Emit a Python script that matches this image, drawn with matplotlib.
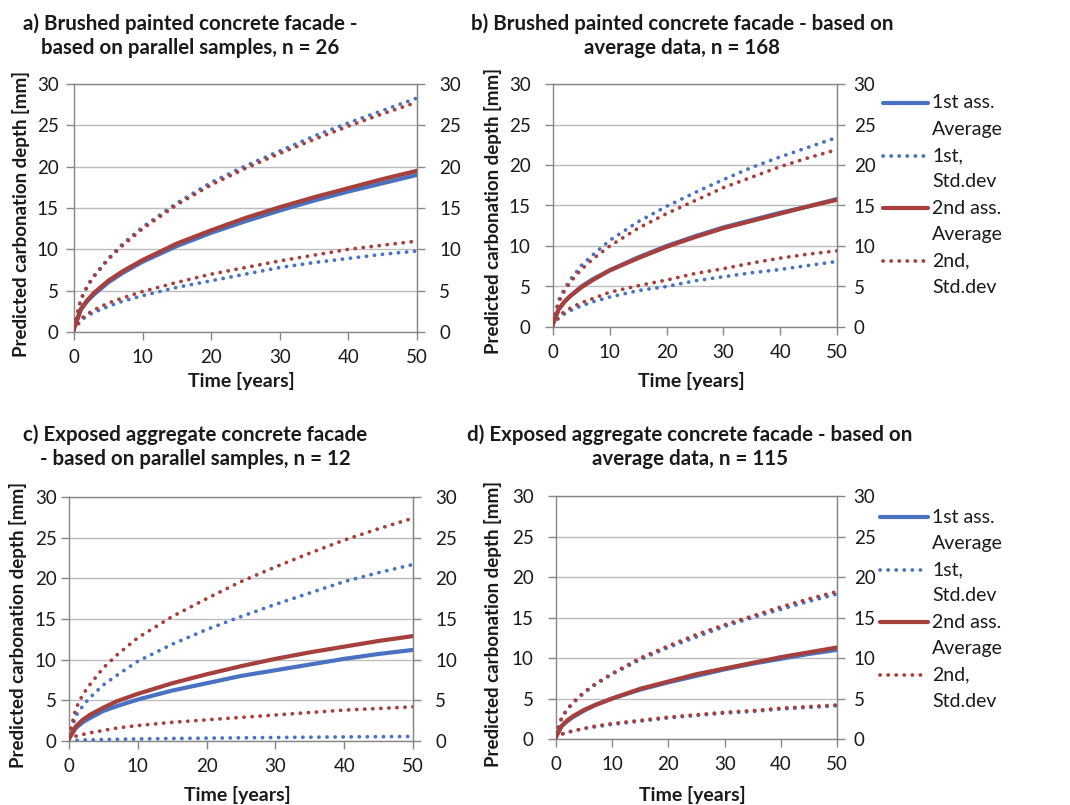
import matplotlib
matplotlib.use("Agg")
import matplotlib.pyplot as plt
from matplotlib.lines import Line2D

plt.rcParams['font.family'] = ['Lato', 'DejaVu Sans']

W, H = 1070, 805

# Time axis (years)
t = [0, 1, 2, 3, 5, 7, 10, 15, 20, 25, 30, 35, 40, 45, 50]

# a) Brushed painted facade, parallel samples
a_avg1 = [0.4, 2.7, 3.8, 4.6, 6.0, 7.1, 8.5, 10.4, 12.0, 13.4, 14.7, 15.9, 17.0, 18.0, 19.0]
a_avg2 = [0.4, 2.8, 3.9, 4.8, 6.2, 7.3, 8.7, 10.7, 12.3, 13.8, 15.1, 16.3, 17.4, 18.5, 19.5]
a_up1 = [0.6, 4.0, 5.7, 6.9, 8.9, 10.6, 12.7, 15.6, 18.1, 20.1, 21.9, 23.7, 25.3, 26.8, 28.3]
a_up2 = [0.6, 3.9, 5.6, 6.8, 8.8, 10.4, 12.5, 15.4, 17.8, 19.8, 21.6, 23.3, 24.9, 26.4, 27.8]
a_lo1 = [0.2, 1.4, 2.0, 2.4, 3.1, 3.7, 4.4, 5.4, 6.2, 7.0, 7.8, 8.4, 8.9, 9.4, 9.8]
a_lo2 = [0.2, 1.6, 2.2, 2.7, 3.5, 4.1, 4.9, 6.0, 7.0, 7.8, 8.6, 9.3, 10.0, 10.5, 11.0]

# b) Brushed painted facade, average data
b_avg1 = [0.4, 2.2, 3.1, 3.8, 5.0, 5.9, 7.0, 8.6, 10.0, 11.2, 12.3, 13.2, 14.1, 14.9, 15.8]
b_avg2 = [0.4, 2.2, 3.1, 3.8, 4.9, 5.8, 7.0, 8.5, 9.9, 11.1, 12.2, 13.1, 14.0, 14.9, 15.7]
b_up1 = [0.6, 3.3, 4.7, 5.8, 7.6, 8.9, 10.7, 13.0, 14.9, 16.6, 18.2, 19.7, 21.0, 22.2, 23.4]
b_up2 = [0.6, 3.1, 4.4, 5.5, 7.1, 8.4, 10.0, 12.2, 14.0, 15.6, 17.2, 18.5, 19.8, 20.9, 21.9]
b_lo1 = [0.2, 1.1, 1.6, 2.0, 2.6, 3.1, 3.7, 4.5, 5.0, 5.7, 6.2, 6.7, 7.1, 7.6, 8.1]
b_lo2 = [0.2, 1.3, 1.9, 2.3, 3.0, 3.5, 4.3, 5.1, 5.8, 6.6, 7.2, 7.9, 8.5, 9.0, 9.4]

# c) Exposed aggregate facade, parallel samples
c_avg1 = [0.3, 1.6, 2.3, 2.8, 3.7, 4.3, 5.1, 6.2, 7.1, 8.0, 8.7, 9.4, 10.1, 10.7, 11.2]
c_avg2 = [0.3, 1.8, 2.6, 3.2, 4.1, 4.9, 5.8, 7.1, 8.2, 9.2, 10.1, 10.9, 11.6, 12.3, 12.9]
c_up1 = [0.5, 3.1, 4.3, 5.3, 6.9, 8.1, 9.8, 11.9, 13.7, 15.3, 16.8, 18.2, 19.6, 20.7, 21.7]
c_up2 = [0.6, 4.0, 5.7, 6.9, 9.0, 10.6, 12.7, 15.3, 17.5, 19.6, 21.4, 23.1, 24.7, 26.1, 27.4]
c_lo1 = [0.0, 0.08, 0.12, 0.14, 0.18, 0.21, 0.25, 0.31, 0.35, 0.39, 0.43, 0.47, 0.5, 0.53, 0.56]
c_lo2 = [0.1, 0.6, 0.8, 1.0, 1.3, 1.6, 1.9, 2.3, 2.6, 2.9, 3.2, 3.5, 3.8, 4.0, 4.2]

# d) Exposed aggregate facade, average data
d_avg1 = [0.3, 1.6, 2.2, 2.7, 3.5, 4.2, 5.0, 6.1, 7.0, 7.8, 8.6, 9.3, 9.9, 10.5, 11.0]
d_avg2 = [0.3, 1.6, 2.3, 2.8, 3.6, 4.2, 5.0, 6.2, 7.1, 8.0, 8.7, 9.4, 10.1, 10.7, 11.3]
d_up1 = [0.5, 2.6, 3.6, 4.4, 5.7, 6.7, 8.0, 9.8, 11.3, 12.6, 13.9, 15.0, 16.0, 17.0, 17.9]
d_up2 = [0.5, 2.6, 3.7, 4.5, 5.8, 6.8, 8.1, 10.0, 11.5, 12.9, 14.1, 15.2, 16.3, 17.3, 18.2]
d_lo1 = [0.1, 0.6, 0.8, 1.0, 1.3, 1.5, 1.8, 2.2, 2.6, 2.9, 3.2, 3.4, 3.7, 3.9, 4.1]
d_lo2 = [0.1, 0.6, 0.8, 1.0, 1.3, 1.6, 1.9, 2.3, 2.7, 3.0, 3.3, 3.5, 3.8, 4.0, 4.2]

titles = [
    "a) Brushed painted concrete facade -\nbased on parallel samples, n = 26",
    "b) Brushed painted concrete facade - based on\naverage data, n = 168",
    "c) Exposed aggregate concrete facade\n- based on parallel samples, n = 12",
    "d) Exposed aggregate concrete facade - based on\naverage data, n = 115",
]
legend_labels = ["1st ass.\nAverage", "1st,\nStd.dev", "2nd ass.\nAverage", "2nd,\nStd.dev"]
y_ticks = [0, 5, 10, 15, 20, 25, 30]
x_ticks = [0, 10, 20, 30, 40, 50]

BLUE = "#4A72C2"
RED = "#A5403D"
GRID = "#BDBDBD"
SPINE = "#868686"
TXT = "#1a1a1a"

DOT = dict(linestyle=(0, (0.05, 2.1)), dash_capstyle='round', lw=2.7)
SOLID = dict(linestyle='-', lw=3.0, solid_capstyle='round')

fig = plt.figure(figsize=(W / 100, H / 100), dpi=100)


def px_axes(x0, y0, x1, y1):
    return fig.add_axes([x0 / W, 1 - y1 / H, (x1 - x0) / W, (y1 - y0) / H])


def fx(x):
    return x / W


def fy(y):
    return 1 - y / H


panels = [
    dict(box=(74, 84, 417, 332), data=(a_avg1, a_up1, a_lo1, a_avg2, a_up2, a_lo2),
         title_xy=(190, 36), ylab_x=21, xlab_y=381, lpad=5, rpad=10),
    dict(box=(553, 84, 837, 327), data=(b_avg1, b_up1, b_lo1, b_avg2, b_up2, b_lo2),
         title_xy=(682, 36), ylab_x=493, xlab_y=381, lpad=10, rpad=6,
         legend=(883, 928, 103)),
    dict(box=(69, 497, 413, 741), data=(c_avg1, c_up1, c_lo1, c_avg2, c_up2, c_lo2),
         title_xy=(195, 447), ylab_x=18, xlab_y=795, lpad=3, rpad=10),
    dict(box=(556, 496, 837, 739), data=(d_avg1, d_up1, d_lo1, d_avg2, d_up2, d_lo2),
         title_xy=(690, 447), ylab_x=493, xlab_y=795, lpad=10, rpad=6,
         legend=(880, 928, 517)),
]

for p, title in zip(panels, titles):
    x0, y0, x1, y1 = p['box']
    ax = px_axes(x0, y0, x1, y1)
    avg1, up1, lo1, avg2, up2, lo2 = p['data']

    ax.plot(t, up1, color=BLUE, **DOT, zorder=3)
    ax.plot(t, lo1, color=BLUE, **DOT, zorder=3)
    ax.plot(t, avg1, color=BLUE, **SOLID, zorder=4)
    ax.plot(t, up2, color=RED, **DOT, zorder=3)
    ax.plot(t, lo2, color=RED, **DOT, zorder=3)
    ax.plot(t, avg2, color=RED, **SOLID, zorder=5)

    ax.set_xlim(0, 50)
    ax.set_ylim(0, 30)
    ax.set_xticks(x_ticks)
    ax.set_yticks(y_ticks)
    ax.yaxis.grid(True, color=GRID, lw=1.0)
    ax.set_axisbelow(True)
    for s in ax.spines.values():
        s.set_color(SPINE)
        s.set_linewidth(1.0)
    ax.tick_params(axis='both', direction='out', length=6, width=1.0, color=SPINE,
                   labelsize=13.5, labelcolor=TXT)
    ax.tick_params(axis='y', pad=p['lpad'])
    ax.tick_params(axis='x', pad=6)

    # secondary (right) depth axis with the same scale
    ax2 = ax.twinx()
    ax2.set_ylim(ax.get_ylim())
    ax2.set_yticks(y_ticks)
    for s in ax2.spines.values():
        s.set_visible(False)
    ax2.spines['right'].set_visible(True)
    ax2.spines['right'].set_color(SPINE)
    ax2.tick_params(axis='y', direction='out', length=6, width=1.0, color=SPINE,
                    labelsize=13.5, labelcolor=TXT, pad=p['rpad'])

    fig.text(fx(p['title_xy'][0]), fy(p['title_xy'][1]), title, ha='center', va='center',
             fontsize=14.8, fontweight='bold', color=TXT, linespacing=1.25)
    fig.text(fx(p['ylab_x']), fy((y0 + y1) / 2 + 6), "Predicted carbonation depth [mm]",
             rotation=90, ha='center', va='center', fontsize=13.5, fontweight='bold', color=TXT)
    fig.text(fx((x0 + x1) / 2 - 4), fy(p['xlab_y']), "Time [years]", ha='center', va='center',
             fontsize=14, fontweight='bold', color=TXT)

    if 'legend' in p:
        lx0, lx1, ly = p['legend']
        step = 26.3
        styles = [(BLUE, SOLID), (BLUE, DOT), (RED, SOLID), (RED, DOT)]
        for i, ((col, sty), lab) in enumerate(zip(styles, legend_labels)):
            yy = ly + i * 2 * step
            fig.add_artist(Line2D([fx(lx0), fx(lx1)], [fy(yy), fy(yy)], color=col,
                                  transform=fig.transFigure, **sty))
            for k, line in enumerate(lab.split("\n")):
                fig.text(fx(lx1 + 4), fy(yy + k * step), line, ha='left', va='center',
                         fontsize=14, color=TXT)

fig.savefig("out.png", dpi=100)
